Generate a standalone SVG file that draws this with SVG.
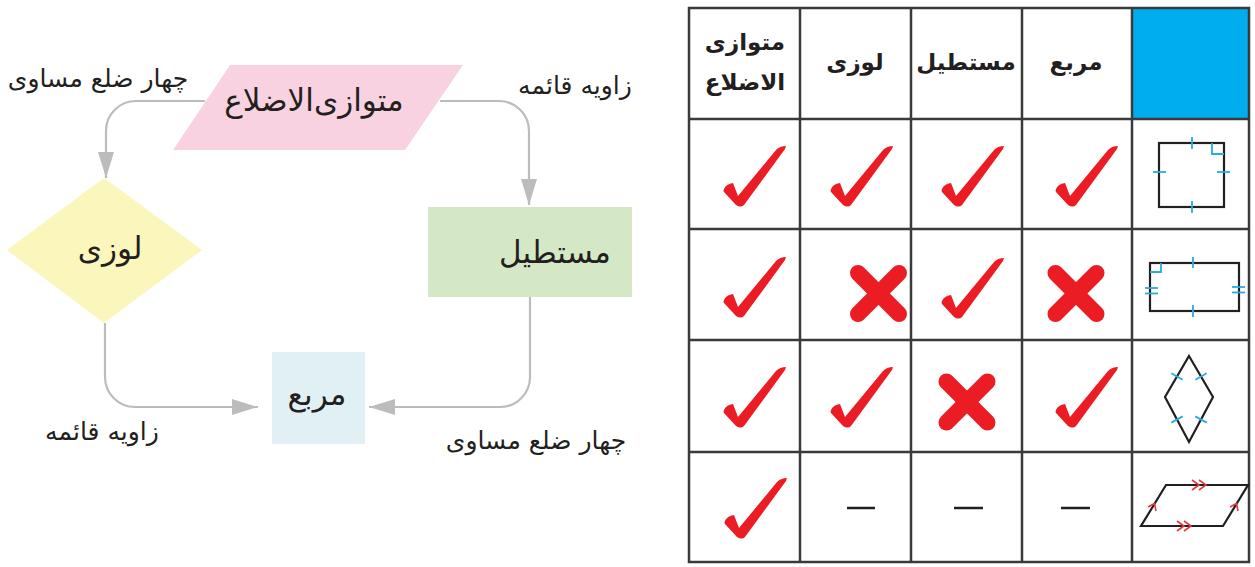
<svg xmlns="http://www.w3.org/2000/svg" xmlns:xlink="http://www.w3.org/1999/xlink" width="1255" height="567" viewBox="0 0 1255 567">
<style>
  .t { font-family: "DejaVu Sans", "Noto Sans", sans-serif; fill: #231f20; text-anchor: middle; }
  .lbl { font-size: 25px; }
  .node { font-size: 31px; }
  .hd { font-size: 23px; font-weight: bold; }
  .conn { fill: none; stroke: #bcbcbc; stroke-width: 2.2; }
  .grid { fill: none; stroke: #3a3a3a; stroke-width: 2.5; }
  .shape { fill: none; stroke: #231f20; stroke-width: 2.2; stroke-linejoin: miter; }
  .tick { stroke: #29abe2; stroke-width: 1.8; fill: none; }
  .chev { stroke: #e0393e; stroke-width: 1.6; fill: none; }
  .chk { fill: #ec1c24; }
  .x { stroke: #ec1c24; stroke-width: 16; stroke-linecap: round; }
  .dash { stroke: #231f20; stroke-width: 2.5; }
</style>
<defs>
  <marker id="arr" markerUnits="userSpaceOnUse" markerWidth="26" markerHeight="18" refX="26" refY="9" orient="auto">
    <path d="M0,1 L26,9 L0,17 Z" fill="#bcbcbc"/>
  </marker>
  <path id="check" d="M1,43 Q3,38 10,37 L15,50 L53,4 Q57,0 63,0 L62,3 L21,59 Q18,62 13,59 L1,46 Q0,45 1,43 Z"/>
  <g id="cross">
    <line x1="-20.5" y1="-20.5" x2="20.5" y2="20.5"/>
    <line x1="20.5" y1="-20.5" x2="-20.5" y2="20.5"/>
  </g>
</defs>
<rect width="1255" height="567" fill="#ffffff"/>

<!-- Flowchart connectors -->
<g id="connectors">
  <path class="conn" d="M205,101 H136 A30,30 0 0 0 106,131 V178" marker-end="url(#arr)"/>
  <path class="conn" d="M440,101 H499 A30,30 0 0 1 529,131 V205" marker-end="url(#arr)"/>
  <path class="conn" d="M105,323 V377 A30,30 0 0 0 135,407 H258" marker-end="url(#arr)"/>
  <path class="conn" d="M530,297 V377 A30,30 0 0 1 500,407 H369" marker-end="url(#arr)"/>
</g>

<!-- Flowchart nodes -->
<g id="node-parallelogram">
  <polygon points="230,65 463,65 405,150 173,150" fill="#f8d2e0"/>
  <text class="t node" x="314" y="111">متوازی&#x200C;الاضلاع</text>
</g>
<g id="node-rhombus">
  <polygon points="104,178 202,250 104,323 7,250" fill="#fbf6bb"/>
  <text class="t node" x="110" y="259">لوزی</text>
</g>
<g id="node-rectangle">
  <rect x="428" y="207" width="204" height="90" fill="#d5e8c6"/>
  <text class="t node" x="555" y="263">مستطیل</text>
</g>
<g id="node-square">
  <rect x="272" y="352" width="93" height="92" fill="#e1f0f3"/>
  <text class="t node" x="317" y="405">مربع</text>
</g>

<!-- Connector labels -->
<g id="labels">
  <text class="t lbl" x="98" y="87">چهار ضلع مساوی</text>
  <text class="t lbl" x="575" y="94">زاویه قائمه</text>
  <text class="t lbl" x="102" y="440">زاویه قائمه</text>
  <text class="t lbl" x="536" y="449">چهار ضلع مساوی</text>
</g>

<!-- Table -->
<g id="table">
  <rect x="1132" y="8" width="117" height="111" fill="#00aeef"/>
  <rect class="grid" x="689" y="8" width="560" height="554"/>
  <line class="grid" x1="800" y1="8" x2="800" y2="562"/>
  <line class="grid" x1="911" y1="8" x2="911" y2="562"/>
  <line class="grid" x1="1022" y1="8" x2="1022" y2="562"/>
  <line class="grid" x1="1132" y1="8" x2="1132" y2="562"/>
  <line class="grid" x1="689" y1="119" x2="1249" y2="119"/>
  <line class="grid" x1="689" y1="229" x2="1249" y2="229"/>
  <line class="grid" x1="689" y1="340" x2="1249" y2="340"/>
  <line class="grid" x1="689" y1="452" x2="1249" y2="452"/>

  <g id="header">
    <text class="t hd" x="745" y="50">متوازی</text>
    <text class="t hd" x="745" y="90">الاضلاع</text>
    <text class="t hd" x="855" y="70">لوزی</text>
    <text class="t hd" x="966" y="70">مستطیل</text>
    <text class="t hd" x="1076" y="70">مربع</text>
  </g>

  <g id="shape-square">
    <rect class="shape" x="1159" y="143" width="65" height="64"/>
    <polyline class="tick" points="1212,143 1212,154 1224,154"/>
    <line class="tick" x1="1192" y1="137" x2="1192" y2="149"/>
    <line class="tick" x1="1192" y1="201" x2="1192" y2="213"/>
    <line class="tick" x1="1153" y1="172" x2="1166" y2="172"/>
    <line class="tick" x1="1217" y1="172" x2="1230" y2="172"/>
  </g>
  <g id="shape-rectangle">
    <rect class="shape" x="1150" y="263" width="89" height="48"/>
    <polyline class="tick" points="1150,272 1161,272 1161,263"/>
    <line class="tick" x1="1193" y1="257" x2="1193" y2="268"/>
    <line class="tick" x1="1193" y1="305" x2="1193" y2="317"/>
    <line class="tick" x1="1145" y1="288" x2="1158" y2="288"/>
    <line class="tick" x1="1145" y1="293.5" x2="1158" y2="293.5"/>
    <line class="tick" x1="1232" y1="287" x2="1245" y2="287"/>
    <line class="tick" x1="1232" y1="292.5" x2="1245" y2="292.5"/>
  </g>
  <g id="shape-rhombus">
    <polygon class="shape" points="1189,356 1213,397 1189,442 1165,397"/>
    <line class="tick" x1="1171.4" y1="373.2" x2="1182.6" y2="379.8"/>
    <line class="tick" x1="1195.4" y1="379.8" x2="1206.6" y2="373.2"/>
    <line class="tick" x1="1171.3" y1="422.6" x2="1182.7" y2="416.4"/>
    <line class="tick" x1="1195.3" y1="416.4" x2="1206.7" y2="422.6"/>
  </g>
  <g id="shape-parallelogram">
    <polygon class="shape" points="1166,485 1248,485 1223,526 1141,526"/>
    <path class="chev" d="M1192,480 L1199,485 L1192,490 M1199,480 L1206,485 L1199,490"/>
    <path class="chev" d="M1177,521 L1184,526 L1177,531 M1184,521 L1191,526 L1184,531"/>
    <path class="chev" d="M1148,507 L1154.5,503.5 L1156,511"/>
    <path class="chev" d="M1230,507 L1236.5,503.5 L1238,511"/>
  </g>

  <g id="marks">
    <!-- row 1 -->
    <use xlink:href="#check" class="chk" x="723" y="146"/>
    <use xlink:href="#check" class="chk" x="830" y="146"/>
    <use xlink:href="#check" class="chk" x="941" y="146"/>
    <use xlink:href="#check" class="chk" x="1055" y="146"/>
    <!-- row 2 -->
    <use xlink:href="#check" class="chk" x="723" y="257"/>
    <use xlink:href="#cross" class="x" x="878.5" y="293.5"/>
    <use xlink:href="#check" class="chk" x="941" y="258"/>
    <use xlink:href="#cross" class="x" x="1076" y="293.5"/>
    <!-- row 3 -->
    <use xlink:href="#check" class="chk" x="723" y="367"/>
    <use xlink:href="#check" class="chk" x="830" y="367"/>
    <use xlink:href="#cross" class="x" x="967" y="402"/>
    <use xlink:href="#check" class="chk" x="1055" y="367"/>
    <!-- row 4 -->
    <use xlink:href="#check" class="chk" x="724" y="478"/>
    <line class="dash" x1="847" y1="508" x2="875" y2="508"/>
    <line class="dash" x1="954" y1="508" x2="983" y2="508"/>
    <line class="dash" x1="1061" y1="508" x2="1090" y2="508"/>
  </g>
</g>
</svg>
